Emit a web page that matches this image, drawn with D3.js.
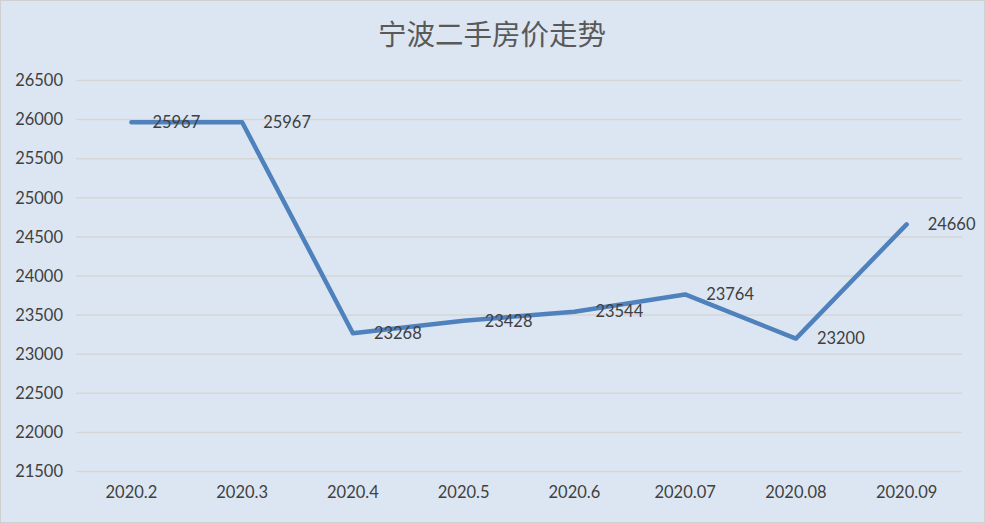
<!DOCTYPE html>
<html><head><meta charset="utf-8">
<script src="https://cdn.jsdelivr.net/npm/d3@7"></script>
<style>body{margin:0;background:#fff}svg{display:block}</style>
</head><body>
<script>
const categories = ["2020.2","2020.3","2020.4","2020.5","2020.6","2020.07","2020.08","2020.09"];
const prices = [25967,25967,23268,23428,23544,23764,23200,24660];
const yTicks = [21500,22000,22500,23000,23500,24000,24500,25000,25500,26000,26500];
const title = "宁波二手房价走势";

const W=985,H=523;
const svg=d3.select("body").append("svg").attr("width",W).attr("height",H);
svg.append("rect").attr("x",0.5).attr("y",0.5).attr("width",W-1).attr("height",H-1)
  .attr("fill","#dce6f2").attr("stroke","#d0d0d0").attr("stroke-width",1);

const x=d3.scaleBand().domain(categories).range([76,962]);
const y=d3.scaleLinear().domain([21500,26500]).range([471.5,80.5]);

svg.append("text").attr("x",492).attr("y",45).attr("text-anchor","middle")
  .attr("font-family","'Noto Sans CJK SC'").attr("font-size",28.5).attr("fill","#595959").text(title);

const grid=svg.append("g");
grid.selectAll("line").data(yTicks).join("line")
  .attr("x1",76).attr("x2",962).attr("y1",d=>y(d)).attr("y2",d=>y(d))
  .attr("stroke","#d6d6d6").attr("stroke-width",1.5);

const yAxis=svg.append("g").attr("transform","translate(76,0)")
  .call(d3.axisLeft(y).tickValues(yTicks).tickSize(0).tickPadding(13).tickFormat(d3.format("d")));
yAxis.select(".domain").remove();
yAxis.selectAll("text").attr("font-family","Lato, 'Open Sans', sans-serif").attr("font-size",16.5).attr("fill","#404040");

const xAxis=svg.append("g").attr("transform","translate(0,471.5)")
  .call(d3.axisBottom(x).tickSize(0).tickPadding(15));
xAxis.select(".domain").remove();
xAxis.selectAll("text").attr("font-family","Lato, 'Open Sans', sans-serif").attr("font-size",16.5).attr("fill","#404040");

const data=categories.map((c,i)=>({c,v:prices[i]}));
const line=d3.line().x(d=>x(d.c)+x.bandwidth()/2).y(d=>y(d.v));
svg.append("path").datum(data).attr("d",line).attr("fill","none")
  .attr("stroke","#4f81bd").attr("stroke-width",4.5).attr("stroke-linecap","round").attr("stroke-linejoin","round");

svg.append("g").selectAll("text").data(data).join("text")
  .attr("x",d=>x(d.c)+x.bandwidth()/2+21).attr("y",d=>y(d.v)).attr("dy","0.35em")
  .attr("font-family","Lato, 'Open Sans', sans-serif").attr("font-size",16.5).attr("fill","#404040")
  .text(d=>d.v);
</script>
</body></html>
